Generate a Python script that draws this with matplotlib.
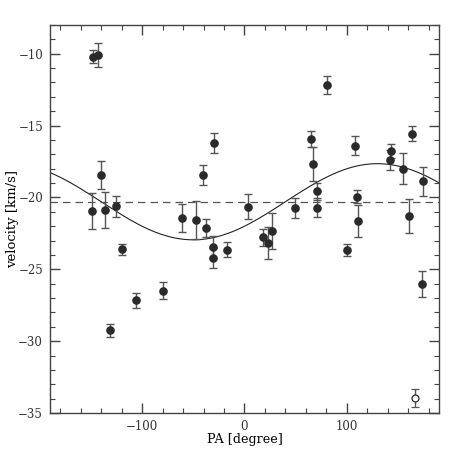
import numpy as np
import matplotlib
matplotlib.use("Agg")
import matplotlib.pyplot as plt
from matplotlib.ticker import MultipleLocator

# Data
pa = [-148.3, -143.5, -140.3, -149.4, -136.7, -125.5, -119.5, -106.0, -131.2,
      -79.3, -61.4, -47.3, -40.8, -37.9, -29.4, -30.7, -30.4, -17.0, 3.2,
      18.2, 23.1, 26.7, 49.2, 65.2, 66.5, 70.4, 70.4, 80.8, 100.1, 107.6,
      109.9, 111.2, 141.9, 143.2, 154.9, 160.8, 164.0, 173.2, 174.8]
vel = [-10.2, -10.1, -18.42, -20.95, -20.88, -20.63, -23.6, -27.15, -29.24,
       -26.5, -21.41, -21.6, -18.45, -22.13, -16.2, -23.45, -24.2, -23.63, -20.65,
       -22.78, -23.17, -22.36, -20.72, -15.93, -17.69, -19.58, -20.72, -12.2, -23.66, -16.39,
       -19.95, -21.64, -17.41, -16.76, -18.0, -21.27, -15.56, -26.02, -18.87]
err = [0.44, 0.82, 0.97, 1.28, 1.28, 0.7, 0.38, 0.53, 0.44,
       0.6, 0.97, 1.32, 0.71, 0.63, 0.71, 0.75, 0.7, 0.52, 0.88,
       0.6, 1.1, 1.25, 0.71, 0.57, 1.18, 0.6, 0.66, 0.63, 0.44, 0.67,
       0.45, 1.1, 0.69, 0.5, 1.09, 1.19, 0.53, 0.93, 1.0]

pa_open = [166.9]
vel_open = [-33.94]
err_open = [0.64]

v_sys = -20.3
amp = 2.65
pa_max = 130.0

plt.rcParams['font.family'] = ['DejaVu Serif']
plt.rcParams['font.size'] = 8.5
plt.rcParams['text.color'] = '#333333'
plt.rcParams['xtick.labelcolor'] = '#333333'
plt.rcParams['ytick.labelcolor'] = '#333333'

fig = plt.figure(figsize=(4.63, 4.63), dpi=100)
ax = fig.add_axes([0.108, 0.108, 0.840, 0.838])

ax.set_xlim(-190, 190)
ax.set_ylim(-35, -8)

xx = np.linspace(-190, 190, 400)
ax.plot(xx, v_sys + amp * np.cos(np.radians(xx - pa_max)), color='#222222', lw=0.8)
ax.axhline(v_sys, color='#555555', lw=0.9, dashes=(6, 4))

ax.errorbar(pa, vel, yerr=err, fmt='o', color='#2a2a2a', ms=5.2,
            ecolor='#555555', elinewidth=1.0, capsize=2.8, capthick=1.0)
ax.errorbar(pa_open, vel_open, yerr=err_open, fmt='o', mfc='white', mec='#2a2a2a',
            mew=0.9, ms=5.0, ecolor='#555555', elinewidth=1.0, capsize=2.8, capthick=1.0)

ax.xaxis.set_major_locator(MultipleLocator(100))
ax.xaxis.set_minor_locator(MultipleLocator(20))
ax.yaxis.set_major_locator(MultipleLocator(5))
ax.yaxis.set_minor_locator(MultipleLocator(1))
ax.tick_params(which='both', direction='in', top=True, right=True, color='#444444')
ax.tick_params(which='major', length=7, width=1.0, labelsize=8.5, pad=5)
ax.tick_params(which='minor', length=3.5, width=0.8)
for s in ax.spines.values():
    s.set_color('#444444')
    s.set_linewidth(1.0)

ax.set_xlabel('PA [degree]', fontsize=9.2)
ax.set_ylabel('velocity [km/s]', fontsize=9.5)
ax.yaxis.set_label_coords(-0.08, 0.5)
ax.xaxis.set_label_coords(0.5, -0.052)

fig.savefig('out.png', dpi=100)
